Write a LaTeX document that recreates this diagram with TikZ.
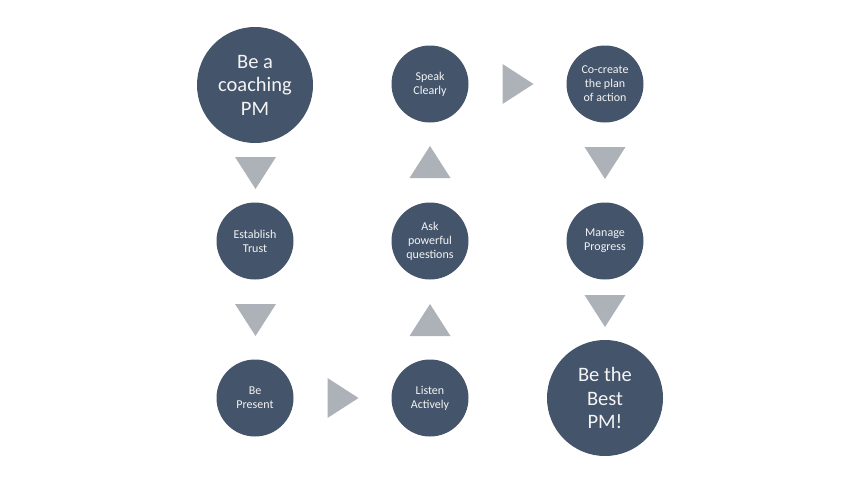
\documentclass[tikz,border=0pt]{standalone}
\usepackage{fontspec}
\usetikzlibrary{calc}
\setmainfont{Carlito}
\definecolor{circ}{HTML}{44546A}
\definecolor{tri}{HTML}{ADB1B8}
\definecolor{txt}{HTML}{F4F4F4}
\begin{document}
\begin{tikzpicture}[x=1pt,y=-1pt,
  small/.style={circle,fill=circ,minimum size=77pt,inner sep=0pt,text=txt,font=\fontsize{12}{14}\selectfont,align=center},
  big/.style={circle,fill=circ,minimum size=116pt,inner sep=0pt,text=txt,font=\fontsize{20.5}{23.5}\selectfont,align=center},
  tribox/.style={fill=tri}]
\useasboundingbox (0,0) rectangle (849,477);
\node[big] (a) at (255,85) {Be a\\coaching\\PM};
\node[small] (b) at (255,241) {Establish\\Trust};
\node[small] (c) at (255,398) {Be\\Present};
\node[small] (d) at (430,398) {Listen\\Actively};
\node[small] (e) at (430,241) {Ask\\powerful\\questions};
\node[small] (f) at (430,84) {Speak\\Clearly};
\node[small] (g) at (605,84) {Co-create\\the plan\\of action};
\node[small] (h) at (605,241) {Manage\\Progress};
\node[big] (i) at (605,398) {Be the\\Best\\PM!};
% down triangles
\coordinate (t1) at (255.5,173);
\fill[tri] ($(t1)+(-20.5,-16)$) -- ($(t1)+(20.5,-16)$) -- ($(t1)+(0,16)$) -- cycle;
\coordinate (t2) at (255.5,320);
\fill[tri] ($(t2)+(-20.5,-16)$) -- ($(t2)+(20.5,-16)$) -- ($(t2)+(0,16)$) -- cycle;
% right triangle
\coordinate (t3) at (343,398);
\fill[tri] ($(t3)+(-15.5,-20)$) -- ($(t3)+(15.5,0)$) -- ($(t3)+(-15.5,20)$) -- cycle;
% up triangles
\coordinate (t4) at (430,320);
\fill[tri] ($(t4)+(-20.5,16)$) -- ($(t4)+(20.5,16)$) -- ($(t4)+(0,-16)$) -- cycle;
\coordinate (t5) at (430,162);
\fill[tri] ($(t5)+(-20.5,16)$) -- ($(t5)+(20.5,16)$) -- ($(t5)+(0,-16)$) -- cycle;
% right triangle
\coordinate (t6) at (518,84);
\fill[tri] ($(t6)+(-15.5,-20)$) -- ($(t6)+(15.5,0)$) -- ($(t6)+(-15.5,20)$) -- cycle;
% down triangles
\coordinate (t7) at (605,163);
\fill[tri] ($(t7)+(-20.5,-16)$) -- ($(t7)+(20.5,-16)$) -- ($(t7)+(0,16)$) -- cycle;
\coordinate (t8) at (605,311);
\fill[tri] ($(t8)+(-20.5,-16)$) -- ($(t8)+(20.5,-16)$) -- ($(t8)+(0,16)$) -- cycle;
\end{tikzpicture}
\end{document}
